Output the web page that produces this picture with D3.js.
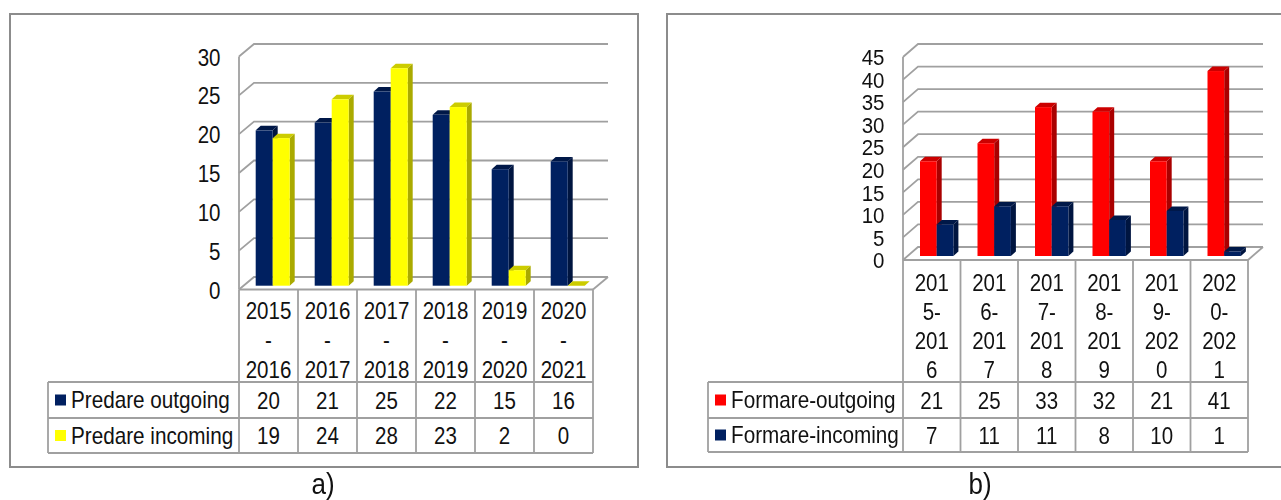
<!DOCTYPE html>
<html><head><meta charset="utf-8">
<script src="https://cdn.jsdelivr.net/npm/d3@7/dist/d3.min.js"></script>
<style>html,body{margin:0;padding:0;background:#fff;overflow:hidden}svg{display:block;filter:blur(0.4px)}text{font-family:"Liberation Sans",Arial,sans-serif;fill:#111}</style>
</head><body><svg id="c" width="1281" height="500"></svg>
<script>
const catsA=[["2015","-","2016"],["2016","-","2017"],["2017","-","2018"],["2018","-","2019"],["2019","-","2020"],["2020","-","2021"]];
const catsB=[["201","5-","201","6"],["201","6-","201","7"],["201","7-","201","8"],["201","8-","201","9"],["201","9-","202","0"],["202","0-","202","1"]];
const predareOutgoing=[20,21,25,22,15,16];
const predareIncoming=[19,24,28,23,2,0];
const formareOutgoing=[21,25,33,32,21,41];
const formareIncoming=[7,11,11,8,10,1];
const ticksA=[0,5,10,15,20,25,30];
const ticksB=[0,5,10,15,20,25,30,35,40,45];
const GRID="#a0a0a0", SY=1.16;
const navy={f:"#002060",s:"#001540",t:"#001848"},yellow={f:"#ffff00",s:"#aaaa00",t:"#cccc00"},red={f:"#ff0000",s:"#aa0000",t:"#cc0000"};
const svg=d3.select("#c");
function label(g,x,y,s,fs,anchor){
  return g.append("text").attr("transform",`translate(${x},${y}) scale(1,${SY})`).attr("dy","0.36em").attr("text-anchor",anchor||"middle").attr("font-size",fs).text(s);
}
function panel(o){
  const g=svg.append("g");
  g.append("rect").attr("x",o.frame[0]).attr("y",o.frame[1]).attr("width",o.frame[2]-o.frame[0]).attr("height",o.frame[3]-o.frame[1]).attr("fill","#fff").attr("stroke","#8c8c8c").attr("stroke-width",2);
  const dx=15,dy=o.floor-o.backBase;
  const y=d3.scaleLinear().domain([0,o.max]).range([o.floor,o.floor-(o.backBase-o.backTop)]);
  const x=d3.scaleBand().domain(d3.range(6)).range([o.left,o.right]);
  o.ticks.forEach(t=>{const yy=y(t);
    g.append("path").attr("d",`M${o.left},${yy}L${o.left+dx},${yy-dy}L${o.right+dx},${yy-dy}`).attr("fill","none").attr("stroke",GRID).attr("stroke-width",1.8);
  });
  g.append("path").attr("d",`M${o.left},${o.floor}L${o.left},${y(o.max)}`).attr("stroke",GRID).attr("stroke-width",1.8);
  g.append("path").attr("d",`M${o.right},${o.floor}L${o.right+dx},${o.floor-dy}`).attr("stroke",GRID).attr("stroke-width",1.8);
  const ax=g.append("g").attr("transform",`translate(${o.labelX},0)`).call(d3.axisLeft(y).tickValues(o.ticks).tickSize(0).tickPadding(0));
  ax.select(".domain").remove();
  ax.selectAll("text").attr("font-size",o.fs).attr("dy","0.36em").attr("transform",`scale(1,${o.axisSY})`).style("font-family",'"Liberation Sans",Arial,sans-serif').attr("fill","#111");
  const base=y(0)-o.barLift, unit=Math.abs(y(1)-y(0)), bw=o.barW, d=5, e=4.5;
  o.series.forEach((s,si)=>{
    s.values.forEach((v,i)=>{
      const x0=x(i)+o.barPad+si*bw, h=v*unit, top=base-h;
      g.append("path").attr("d",`M${x0},${top}L${x0+d},${top-e}L${x0+bw+d},${top-e}L${x0+bw},${top}Z`).attr("fill",s.c.t);
      g.append("path").attr("d",`M${x0+bw},${top}L${x0+bw+d},${top-e}L${x0+bw+d},${base-e}L${x0+bw},${base}Z`).attr("fill",s.c.s);
      g.append("rect").attr("x",x0).attr("y",top).attr("width",bw).attr("height",h).attr("fill",s.c.f);
    });
  });
  const [r1,r2,r3]=o.rows;
  const line=(a,b,c,e2)=>g.append("line").attr("x1",a).attr("y1",b).attr("x2",c).attr("y2",e2).attr("stroke",GRID).attr("stroke-width",1.8);
  line(o.left,o.floor,o.right,o.floor);
  d3.range(7).forEach(i=>{const xx=o.left+i*x.step();line(xx,o.floor,xx,r3);});
  line(o.tableLeft,r1,o.tableLeft,r3);
  [r1,r2,r3].forEach(r=>line(o.tableLeft,r,o.right,r));
  o.cats.forEach((ls,i)=>{ls.forEach((l,j)=>label(g,x(i)+x.bandwidth()/2,o.catY+j*o.catStep,l,o.fs));});
  o.series.forEach((s,si)=>{
    const cy=(o.rows[si]+o.rows[si+1])/2;
    g.append("rect").attr("x",o.tableLeft+7).attr("y",cy-5.5).attr("width",11).attr("height",11).attr("fill",s.c.f);
    label(g,o.tableLeft+23,cy-0.5,s.name,o.fsLegend,"start");
    s.values.forEach((v,i)=>label(g,x(i)+x.bandwidth()/2,cy,v,o.fs));
  });
  g.append("text").attr("transform",`translate(${o.capX},493.5) scale(1,1.1)`).attr("text-anchor","middle").attr("font-size",26).text(o.caption);
}
panel({frame:[10,14,638,467],left:239,right:593,floor:289.5,backTop:44,backBase:277,max:30,ticks:ticksA,labelX:220.5,fs:20.5,fsLegend:20.7,axisSY:SY,
  barPad:16.7,barW:17,barLift:3.8,rows:[382,418,453],tableLeft:48,cats:catsA,catY:310,catStep:29.5,capX:323,caption:"a)",
  series:[{name:"Predare outgoing",values:predareOutgoing,c:navy},{name:"Predare incoming",values:predareIncoming,c:yellow}]});
panel({frame:[667,14,1290,467],left:903,right:1248,floor:260,backTop:44,backBase:247,max:45,ticks:ticksB,labelX:884.5,fs:20.5,fsLegend:20.7,axisSY:1.04,
  barPad:17,barW:16.7,barLift:4,rows:[382,418,452],tableLeft:708,cats:catsB,catY:282,catStep:29.3,capX:980,caption:"b)",
  series:[{name:"Formare-outgoing",values:formareOutgoing,c:red},{name:"Formare-incoming",values:formareIncoming,c:navy}]});
</script></body></html>
